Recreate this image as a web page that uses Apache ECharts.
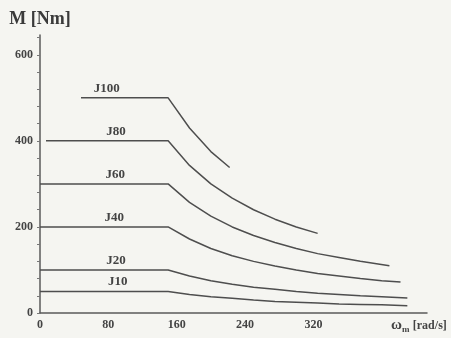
<!DOCTYPE html>
<html>
<head>
<meta charset="utf-8">
<script src="https://cdn.jsdelivr.net/npm/echarts@6/dist/echarts.min.js"></script>
<style>html,body{margin:0;padding:0;background:#f5f5f1;}#c{width:451px;height:338px;}</style>
</head>
<body>
<div id="c"></div>
<script>
// Data (speed in rad/s, torque in Nm)
const names = ['J10', 'J20', 'J40', 'J60', 'J80', 'J100'];
const labelAt = [91, 89, 87, 88, 89, 78];

const j10x = [0, 91, 150, 175, 200, 225, 250, 275, 300, 325, 350, 375, 400, 430];
const j10y = [50, 50, 50, 43, 38, 34, 30, 27, 25, 23, 21, 20, 19, 17];
const j20x = [0, 89, 150, 175, 200, 225, 250, 275, 300, 325, 350, 375, 400, 430];
const j20y = [100, 100, 100, 86, 75, 67, 60, 55, 50, 46, 43, 40, 38, 35];
const j40x = [0, 87, 150, 175, 200, 225, 250, 275, 300, 325, 350, 375, 400, 422];
const j40y = [200, 200, 200, 172, 150, 133, 120, 109, 100, 92, 86, 80, 75, 72];
const j60x = [0, 88, 150, 175, 200, 225, 250, 275, 300, 325, 350, 375, 409];
const j60y = [300, 300, 300, 257, 225, 200, 180, 164, 150, 138, 129, 120, 110];
const j80x = [7, 89, 150, 175, 200, 225, 250, 275, 300, 325];
const j80y = [400, 400, 400, 343, 300, 267, 240, 218, 200, 185];
const j100x = [48, 78, 150, 175, 200, 222];
const j100y = [500, 500, 500, 430, 375, 338];

const xs = [j10x, j20x, j40x, j60x, j80x, j100x];
const ys = [j10y, j20y, j40y, j60y, j80y, j100y];

const xTickLabels = [0, 80, 160, 240, 320];
const yTickLabels = [0, 200, 400, 600];
const yMinorTicks = [0, 40, 80, 120, 160, 200, 240, 280, 320, 360, 400, 440, 480, 520, 560, 600, 640];

const serif = '"Liberation Serif", "DejaVu Serif", serif';
const ink = '#444444';

const series = names.map((n, i) => ({
  type: 'line',
  name: n,
  symbol: 'circle',
  symbolSize: 2,
  showSymbol: true,
  showAllSymbol: true,
  smooth: false,
  lineStyle: { color: '#4e4e4e', width: 1.5 },
  itemStyle: { color: 'rgba(0,0,0,0)', borderWidth: 0 },
  label: {
    show: true, position: 'top', distance: 2,
    formatter: (p) => (p.value[0] === labelAt[i] ? n : ''),
    fontFamily: serif, fontWeight: 'bold', fontSize: 13, color: ink
  },
  data: xs[i].map((x, k) => [x, ys[i][k]])
}));

const chart = echarts.init(document.getElementById('c'), null, { renderer: 'canvas' });
chart.setOption({
  backgroundColor: '#f5f5f1',
  animation: false,
  grid: { left: 40, right: 24, top: 35, bottom: 25 },
  xAxis: {
    type: 'value', min: 0, max: 453,
    splitLine: { show: false },
    axisLine: { lineStyle: { color: '#5a5a5a', width: 1.5 } },
    axisTick: { show: false },
    axisLabel: {
      customValues: xTickLabels, color: ink, fontFamily: serif,
      fontWeight: 'bold', fontSize: 12, margin: 6
    }
  },
  yAxis: {
    type: 'value', min: 0, max: 646,
    name: 'M [Nm]', nameLocation: 'end', nameGap: 7,
    nameTextStyle: { fontFamily: serif, fontWeight: 'bold', fontSize: 18, color: '#3a3a3a', align: 'center' },
    splitLine: { show: false },
    axisLine: { show: true, lineStyle: { color: '#5a5a5a', width: 1.5 } },
    axisTick: { show: true, customValues: yMinorTicks, length: 3, lineStyle: { color: '#777' } },
    axisLabel: {
      customValues: yTickLabels, color: ink, fontFamily: serif,
      fontWeight: 'bold', fontSize: 12, margin: 7
    }
  },
  graphic: [{
    type: 'text', left: 391, top: 318,
    style: {
      text: '{w|ω}{s|m} {r|[rad/s]}',
      rich: {
        w: { fontFamily: serif, fontWeight: 'bold', fontSize: 15, fill: ink },
        s: { fontFamily: serif, fontWeight: 'bold', fontSize: 9, fill: ink, verticalAlign: 'bottom', padding: [8, 0, 0, 0] },
        r: { fontFamily: serif, fontWeight: 'bold', fontSize: 12, fill: ink }
      }
    }
  }],
  series: series
});
</script>
</body>
</html>
